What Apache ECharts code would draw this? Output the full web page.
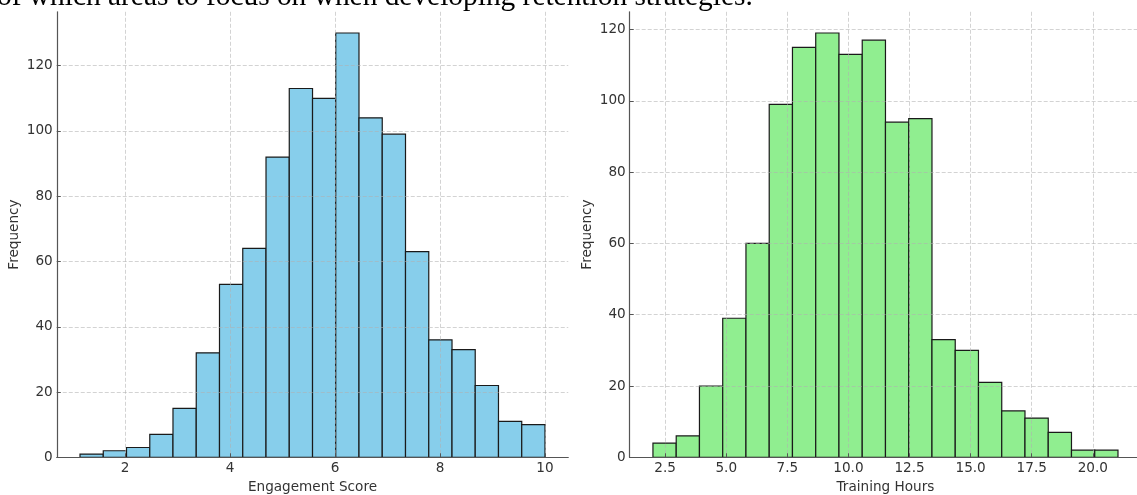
<!DOCTYPE html>
<html>
<head>
<meta charset="utf-8">
<script src="https://cdn.jsdelivr.net/npm/echarts@6/dist/echarts.min.js"></script>
<style>
  html, body { margin: 0; padding: 0; background: #fff; }
  #chart { width: 1137px; height: 495px; }
</style>
</head>
<body>
<div id="chart"></div>
<script>
// engagement score histogram (20 bins)
var engagementEdges = [1.143, 1.586, 2.029, 2.472, 2.914, 3.357, 3.800, 4.243, 4.686, 5.129, 5.572,
  6.014, 6.457, 6.900, 7.343, 7.786, 8.229, 8.671, 9.114, 9.557, 10.000];
var engagementCounts = [1, 2, 3, 7, 15, 32, 53, 64, 92, 113, 110, 130, 104, 99, 63, 36, 33, 22, 11, 10];
var engagementTicks = [2, 4, 6, 8, 10];

// training hours histogram (20 bins)
var trainingEdges = [2.000, 2.952, 3.903, 4.855, 5.806, 6.758, 7.709, 8.661, 9.612, 10.564, 11.515,
  12.467, 13.418, 14.370, 15.321, 16.273, 17.224, 18.176, 19.127, 20.079, 21.030];
var trainingCounts = [4, 6, 20, 39, 60, 99, 115, 119, 113, 117, 94, 95, 33, 30, 21, 13, 11, 7, 2, 2];
var trainingTicks = [2.5, 5, 7.5, 10, 12.5, 15, 17.5, 20];

var freqTicks = [0, 20, 40, 60, 80, 100, 120];

var topLine = 'of which areas to focus on when developing retention strategies.';

var labelFont = 'DejaVu Sans';
var textColor = '#333';

function toBins(edges, counts) {
  var out = [];
  for (var i = 0; i < counts.length; i++) {
    out.push([edges[i], edges[i + 1], counts[i]]);
  }
  return out;
}

// draw one histogram bar from its bin edges
function histBar(color) {
  return function (params, api) {
    var topLeft = api.coord([api.value(0), api.value(2)]);
    var bottomRight = api.coord([api.value(1), 0]);
    return {
      type: 'rect',
      shape: {
        x: topLeft[0],
        y: topLeft[1],
        width: bottomRight[0] - topLeft[0],
        height: bottomRight[1] - topLeft[1]
      },
      style: { fill: color, stroke: '#1a1a1a', lineWidth: 1.2 }
    };
  };
}

function xAxisOpt(idx, min, max, ticks, name, fmt) {
  return {
    type: 'value',
    gridIndex: idx,
    min: min,
    max: max,
    z: 3,
    name: name,
    nameLocation: 'middle',
    nameGap: 23,
    nameTextStyle: { fontFamily: labelFont, fontSize: 13.6, color: textColor },
    axisLine: { show: true, onZero: false, lineStyle: { color: '#555', width: 1.2 } },
    axisTick: { show: true, inside: true, length: 4, customValues: ticks, lineStyle: { color: '#555' } },
    axisLabel: {
      customValues: ticks,
      margin: 4,
      fontFamily: labelFont,
      fontSize: 13.6,
      color: textColor,
      formatter: fmt
    },
    splitLine: { show: true, lineStyle: { color: 'rgba(176,176,176,0.7)', width: 0.8, type: [4, 2] } }
  };
}

function yAxisOpt(idx, max) {
  return {
    type: 'value',
    gridIndex: idx,
    min: 0,
    max: max,
    z: 3,
    name: 'Frequency',
    nameLocation: 'middle',
    nameGap: 35,
    nameTextStyle: { fontFamily: labelFont, fontSize: 13.6, color: textColor },
    axisLine: { show: true, lineStyle: { color: '#555', width: 1.2 } },
    axisTick: { show: true, inside: true, length: 4, customValues: freqTicks, lineStyle: { color: '#555' } },
    axisLabel: {
      customValues: freqTicks,
      margin: 4,
      fontFamily: labelFont,
      fontSize: 13.6,
      color: textColor
    },
    splitLine: { show: true, lineStyle: { color: 'rgba(176,176,176,0.7)', width: 0.8, type: [4, 2] } }
  };
}

var chart = echarts.init(document.getElementById('chart'), null, { renderer: 'canvas' });

var option = {
  animation: false,
  backgroundColor: '#fff',
  graphic: [{
    type: 'text',
    left: -3,
    top: -17,
    style: {
      text: topLine,
      font: '29.4px "Liberation Serif"',
      fill: '#000'
    }
  }],
  grid: [
    { left: 56.75, top: 11.8, width: 511.5, height: 445.5, outerBoundsMode: 'none', containLabel: false },
    { left: 629.7, top: 11.8, width: 511.5, height: 445.5, outerBoundsMode: 'none', containLabel: false }
  ],
  xAxis: [
    xAxisOpt(0, 0.700, 10.443, engagementTicks, 'Engagement Score', function (v) { return String(v); }),
    xAxisOpt(1, 1.0485, 21.98, trainingTicks, 'Training Hours', function (v) { return v.toFixed(1); })
  ],
  yAxis: [
    yAxisOpt(0, 136.5),
    yAxisOpt(1, 124.95)
  ],
  series: [
    {
      type: 'custom',
      xAxisIndex: 0,
      yAxisIndex: 0,
      renderItem: histBar('#87CEEB'),
      encode: { x: [0, 1], y: 2 },
      data: toBins(engagementEdges, engagementCounts)
    },
    {
      type: 'custom',
      xAxisIndex: 1,
      yAxisIndex: 1,
      renderItem: histBar('#90EE90'),
      encode: { x: [0, 1], y: 2 },
      data: toBins(trainingEdges, trainingCounts)
    }
  ]
};

chart.setOption(option);
</script>
</body>
</html>
